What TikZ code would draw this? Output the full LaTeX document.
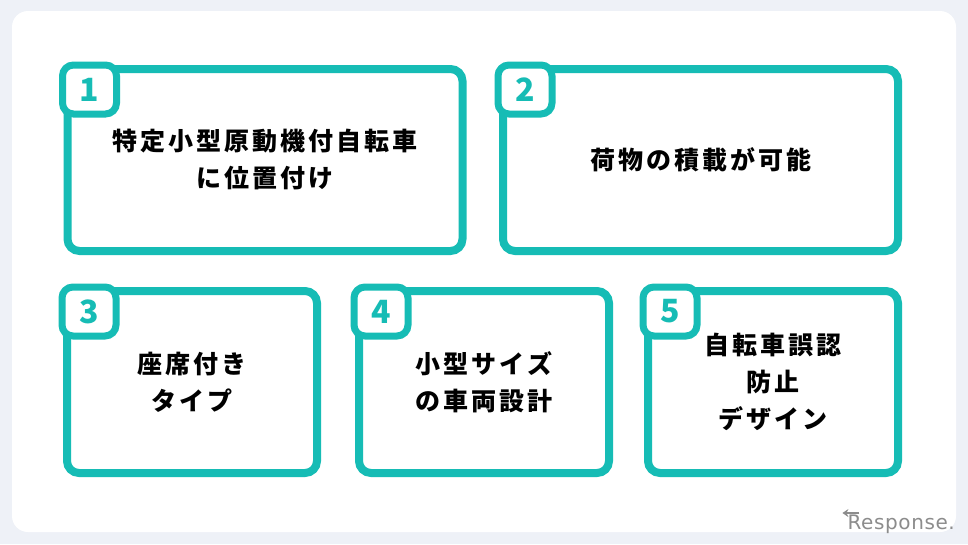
\documentclass[tikz,border=0pt]{standalone}
\usepackage{fontspec}
\usepackage{tikz}
\usetikzlibrary{calc,arrows.meta}
\newfontfamily\jpfont[LetterSpace=12]{Noto Sans CJK JP}
\newfontfamily\numfont{Noto Sans CJK JP}
\newfontfamily\logofont[LetterSpace=3]{DejaVu Sans}
\definecolor{brand_teal}{RGB}{22,188,181}
\definecolor{page_bg}{RGB}{238,241,247}
\definecolor{logo_gray}{RGB}{140,140,140}
\tikzset{
    cardbox/.style={draw=brand_teal,line width=8pt,rounded corners=12pt,fill=white,
        minimum width=#1,minimum height=182pt,inner sep=0pt,outer sep=0pt,align=center,
        font=\jpfont\bfseries\fontsize{25}{37}\selectfont},
    numbadge/.style={draw=brand_teal,line width=7pt,rounded corners=11pt,fill=white,
        minimum width=54pt,minimum height=49pt,inner sep=0pt,outer sep=0pt,anchor=north west,
        text=brand_teal,font=\numfont\bfseries\fontsize{32}{32}\selectfont},
}

\begin{document}
\begin{tikzpicture}[x=1pt,y=-1pt]
  \useasboundingbox (0,0) rectangle (968,544);
  % Background and card
  \fill[page_bg] (0,0) rectangle (968,544);
  \fill[white,rounded corners=16pt] (12,11) rectangle (956,532);
  % Top row
  \node[cardbox=395pt] (box1) at (265,160) {特定小型原動機付自転車\\に位置付け};
  \node[cardbox=395pt] (box2) at (700.5,160) {荷物の積載が可能};
  % Bottom row
  \node[cardbox=250pt] (box3) at (192,382) {座席付き\\タイプ};
  \node[cardbox=250pt] (box4) at (484,382) {小型サイズ\\の車両設計};
  \node[cardbox=250pt] (box5) at (773,382) {自転車誤認\\防止\\デザイン};
  % Number badges
  \foreach \i in {1,...,5}
    \node[numbadge] (badge\i) at ($(box\i.north west)+(-5,-4)$) {\i};
  % Logo
  \node[logo_gray,font=\logofont\fontsize{20}{20}\selectfont,anchor=base east,inner sep=0pt] (logo) at (955,529) {Response.};
  \draw[logo_gray,line width=2pt,-{Stealth[length=6pt,width=8pt]}]
    ($(logo.base west)+(12,-16)$) -- ($(logo.base west)+(-5,-16)$);
\end{tikzpicture}
\end{document}
